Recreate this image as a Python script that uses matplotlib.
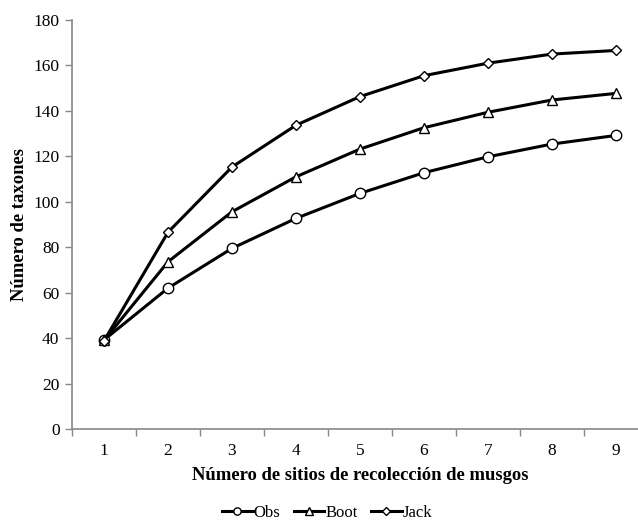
import matplotlib
matplotlib.use("Agg")
import matplotlib.pyplot as plt
import numpy as np

sites = [1, 2, 3, 4, 5, 6, 7, 8, 9]
obs = [39.2, 62.0, 79.5, 92.7, 103.7, 112.8, 119.8, 125.4, 129.2]
boot = [39.0, 73.6, 95.6, 111.0, 123.2, 132.6, 139.4, 144.8, 147.7]
jack = [38.8, 86.6, 115.3, 133.7, 146.3, 155.5, 161.0, 165.0, 166.6]
series = [("Obs", obs, "o"), ("Boot", boot, "^"), ("Jack", jack, "D")]
yticks = [0, 20, 40, 60, 80, 100, 120, 140, 160, 180]

plt.rcParams['font.family'] = ['Liberation Serif', 'DejaVu Serif']

fig = plt.figure(figsize=(6.38, 5.21), dpi=100)
ax = fig.add_axes([72/638, 1 - 429/521, (648 - 72)/638, (429 - 20)/521])

for name, vals, mk in series:
    ms = 7.5 if mk != "D" else 5.5
    ax.plot(sites, vals, color="black", lw=2.2, marker=mk, markersize=ms,
            markerfacecolor="white", markeredgecolor="black", markeredgewidth=1.0,
            label=name)

ax.set_xlim(0.5, 9.5)
ax.set_ylim(0, 180)
ax.set_yticks(yticks)
ax.set_xticks(sites)
ax.set_xticks(np.arange(0.5, 9.5, 1.0), minor=True)
ax.tick_params(axis='x', which='major', length=0, pad=10, labelsize=12.5)
ax.tick_params(axis='x', which='minor', length=5, color='#888888', width=1)
ax.tick_params(axis='y', which='major', length=5, color='#888888', width=1, labelsize=12.5, pad=4)

for s in ['top', 'right']:
    ax.spines[s].set_visible(False)
for s in ['left', 'bottom']:
    ax.spines[s].set_color('#888888')
    ax.spines[s].set_linewidth(1.2)

ax.set_xlabel("Número de sitios de recolección de musgos", fontsize=13.4, fontweight='bold', labelpad=6)
ax.set_ylabel("Número de taxones", fontsize=13.4, fontweight='bold')
ax.yaxis.set_label_coords((28 - 72) / 576, 0.5)

leg = fig.legend(loc='center', bbox_to_anchor=(327/638, 1 - 513/521), ncol=3, frameon=False,
                 fontsize=12, handlelength=1.85, columnspacing=0.8, handletextpad=0.05,
                 markerscale=0.7)

fig.savefig("out.png", dpi=100)
